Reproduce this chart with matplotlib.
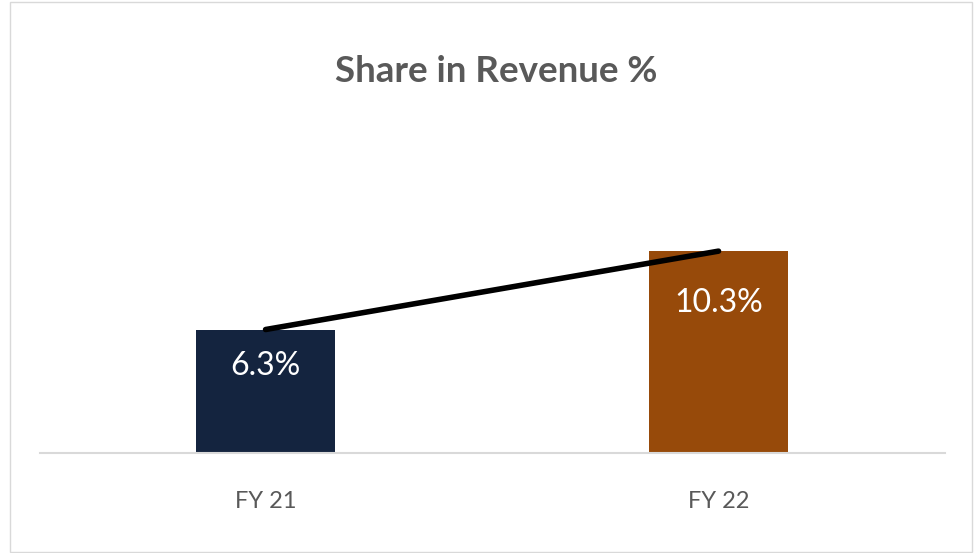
import matplotlib.pyplot as plt
from matplotlib.patches import Rectangle

categories = ["FY 21", "FY 22"]
share = [6.3, 10.3]
labels = ["6.3%", "10.3%"]
bar_colors = ["#14243F", "#974A0A"]

plt.rcParams['font.family'] = ['Lato', 'DejaVu Sans']

fig = plt.figure(figsize=(9.75, 5.53), dpi=100)
fig.patches.append(Rectangle((10 / 975, 1 - 552 / 553), 962 / 975, 550 / 553,
                             transform=fig.transFigure, fill=False,
                             edgecolor="#D9D9D9", linewidth=1))

ax = fig.add_axes([40 / 975, 1 - 453 / 553, 905 / 975, 303 / 553])
x = list(range(len(categories)))
ax.bar(x, share, width=0.307, color=bar_colors, zorder=2)
ax.plot(x, share, color="black", linewidth=4, solid_capstyle="round", zorder=3)

# label offsets below the bar tops (points)
offsets = [-26, -37]
for xi, yi, lab, off in zip(x, share, labels, offsets):
    ax.annotate(lab, (xi, yi), xytext=(0, off), textcoords="offset points",
                ha="center", va="center", color="white", fontsize=23, zorder=4)

ax.set_xlim(-0.498, 1.5)
ax.set_ylim(0, 15.46)
ax.set_xticks(x)
ax.set_xticklabels(categories, fontsize=17, color="#595959")
ax.tick_params(axis="x", length=0, pad=27)
ax.set_yticks([])
for side in ["top", "right", "left"]:
    ax.spines[side].set_visible(False)
ax.spines["bottom"].set_color("#D9D9D9")
ax.spines["bottom"].set_linewidth(1.5)

fig.text(496 / 975, 1 - 72 / 553, "Share in Revenue %", ha="center", va="center",
         fontsize=26.5, fontweight="bold", color="#595959")

fig.savefig("out.png", dpi=100)
